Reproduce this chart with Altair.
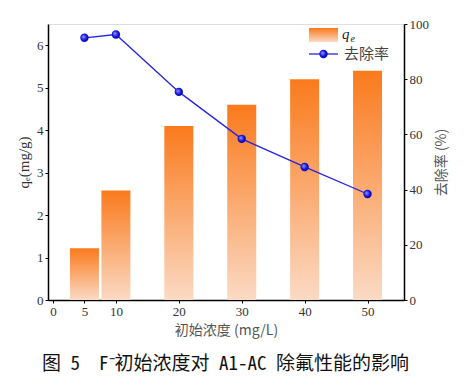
import altair as alt
import pandas as pd

conc = [5, 10, 20, 30, 40, 50]
qe = [1.22, 2.58, 4.10, 4.60, 5.20, 5.40]
removal = [95.0, 96.2, 75.4, 58.4, 48.2, 38.4]
x_ticks = [0, 5, 10, 20, 30, 40, 50]
left_ticks = [0, 1, 2, 3, 4, 5, 6]
right_ticks = [0, 20, 40, 60, 80, 100]

df = pd.DataFrame({"conc": conc, "qe": qe, "removal": removal})
one = pd.DataFrame({"k": [0]})

SERIF = "Liberation Serif, Times New Roman, serif"
CJK = "Noto Sans CJK SC"
MONO = "Noto Sans Mono CJK SC, Liberation Mono, Noto Sans CJK SC"
W, H = 356, 276

xscale = alt.Scale(domain=[0, 55], nice=False, zero=False)
xaxis = alt.Axis(values=x_ticks, title="初始浓度 (mg/L)", titleFont=CJK, titleFontSize=14,
                 titleFontWeight="normal", titleColor="#555", titlePadding=5,
                 labelFont=SERIF, labelFontSize=13, labelColor="#333", tickSize=3,
                 domainColor="black", tickColor="black", domainWidth=1.5, grid=False, labelPadding=2)

bar_grad = alt.Gradient(gradient="linear",
                        stops=[alt.GradientStop(color="#FA7A1C", offset=0),
                               alt.GradientStop(color="#FBDAC4", offset=1)],
                        x1=0, x2=0, y1=0, y2=1)

bars = alt.Chart(df).mark_bar(size=29, color=bar_grad).encode(
    x=alt.X("conc:Q", scale=xscale, axis=xaxis),
    y=alt.Y("qe:Q", scale=alt.Scale(domain=[0, 6.5], nice=False),
            axis=alt.Axis(values=left_ticks, title="qₑ(mg/g)", titleFont=SERIF, titleFontSize=15,
                          titleFontWeight="normal", titleColor="#333", titlePadding=5,
                          labelFont=SERIF, labelFontSize=13, labelColor="#333", tickSize=3,
                          domainColor="black", tickColor="black", domainWidth=1.5, grid=False)),
)

ball = alt.Gradient(gradient="radial",
                    stops=[alt.GradientStop(color="#9EA0FF", offset=0),
                           alt.GradientStop(color="#1010D8", offset=0.6),
                           alt.GradientStop(color="#0000A0", offset=1)],
                    x1=0.35, y1=0.35, r1=0, x2=0.5, y2=0.5, r2=0.6)

ryaxis = alt.Axis(values=right_ticks, orient="right", title="去除率 (%)", titleFont=CJK,
                  titleFontSize=14, titleFontWeight="normal", titleColor="#555", titleAngle=270,
                  titlePadding=20, labelFont=SERIF, labelFontSize=13, labelColor="#333", tickSize=3,
                  domainColor="black", tickColor="black", domainWidth=1.5, grid=False)
ryscale = alt.Scale(domain=[0, 100], nice=False)

line = alt.Chart(df).mark_line(color="#2424E0", strokeWidth=1.3).encode(
    x=alt.X("conc:Q", scale=xscale),
    y=alt.Y("removal:Q", scale=ryscale, axis=ryaxis),
)
pts = alt.Chart(df).mark_point(filled=True, size=70, fill=ball, opacity=1, shape="circle").encode(
    x=alt.X("conc:Q", scale=xscale),
    y=alt.Y("removal:Q", scale=ryscale, axis=ryaxis),
)
right = alt.layer(line, pts)

# legend
leg_rect = alt.Chart(one).mark_rect(color=bar_grad).encode(
    x=alt.value(261), x2=alt.value(290), y=alt.value(4), y2=alt.value(18))
leg_q = alt.Chart(one).mark_text(font=SERIF, fontSize=15, fontStyle="italic", align="left",
                                 baseline="middle", color="#222").encode(
    x=alt.value(294), y=alt.value(10), text=alt.value("q"))
leg_e = alt.Chart(one).mark_text(font=SERIF, fontSize=10, fontStyle="italic", align="left",
                                 baseline="middle", color="#222").encode(
    x=alt.value(302.5), y=alt.value(15), text=alt.value("e"))
leg_line = alt.Chart(one).mark_rule(color="#2424E0", strokeWidth=1.3).encode(
    x=alt.value(261), x2=alt.value(290), y=alt.value(30))
leg_pt = alt.Chart(one).mark_point(filled=True, size=70, fill=ball, opacity=1, shape="circle").encode(
    x=alt.value(275.5), y=alt.value(30))
leg_txt = alt.Chart(one).mark_text(font=CJK, fontSize=15, align="left", baseline="middle",
                                   color="#444").encode(
    x=alt.value(296), y=alt.value(30), text=alt.value("去除率"))
caption = alt.Chart(one).mark_text(font=MONO, fontSize=19, align="left", baseline="middle",
                                   color="#111").encode(
    x=alt.value(-6), y=alt.value(340),
    text=alt.value("图\u00a05\u00a0\u00a0F⁻初始浓度对\u00a0A1-AC\u00a0除氟性能的影响"))

legend = alt.layer(leg_rect, leg_q, leg_e, leg_line, leg_pt, leg_txt, caption)

chart = alt.layer(bars, right, legend).resolve_scale(y="independent").properties(
    width=W, height=H,
    autosize=alt.AutoSizeParams(type="none"),
    padding={"left": 40, "top": 16, "right": 56, "bottom": 76},
).configure_view(stroke="black", strokeWidth=1.5).configure_axis(
    labelFont=SERIF).configure(background="white")

chart.save("out.html", embed_options={"renderer": "svg", "actions": False})
